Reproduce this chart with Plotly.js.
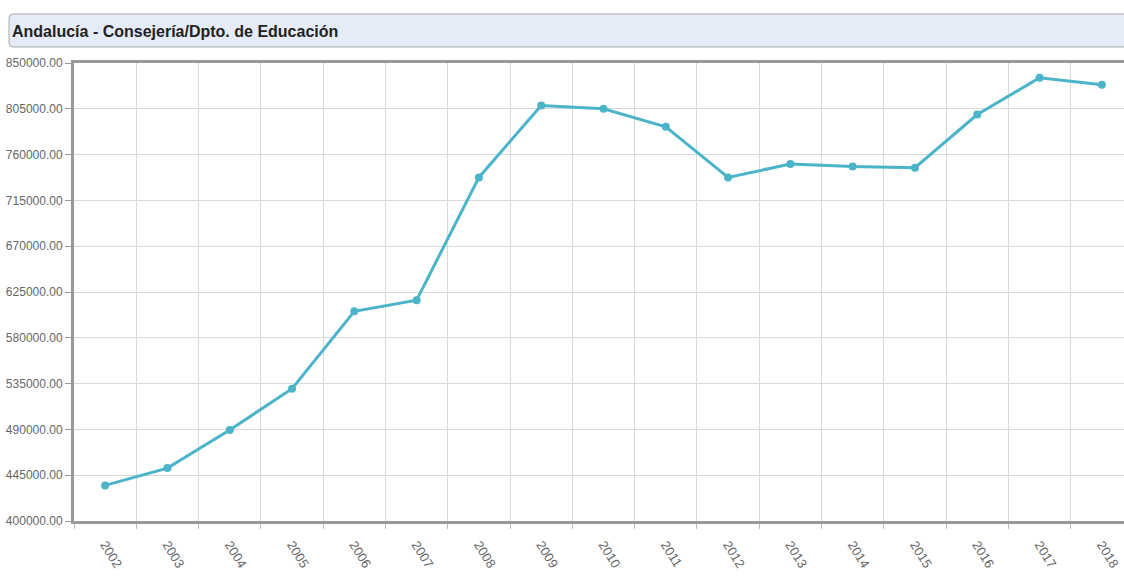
<!DOCTYPE html>
<html>
<head>
<meta charset="utf-8">
<script src="https://cdn.plot.ly/plotly-3.0.1.min.js"></script>
<style>
html,body{margin:0;padding:0;overflow:hidden;background:#fff;}
#chart{width:1150px;height:578px;}
</style>
</head>
<body>
<div id="chart"></div>
<script>
const years = ['2002','2003','2004','2005','2006','2007','2008','2009','2010','2011','2012','2013','2014','2015','2016','2017','2018'];
const values = [435000, 452000, 489400, 530000, 606000, 617000, 737600, 808300, 805000, 787300, 737500, 750800, 748200, 747200, 799400, 835500, 828600];
const yTicks = [400000, 445000, 490000, 535000, 580000, 625000, 670000, 715000, 760000, 805000, 850000];
const titleText = 'Andalucía - Consejería/Dpto. de Educación';

const W = 1150, H = 578;
const mL = 74, mR = 17, mT = 63, mB = 57;
const pw = W - mL - mR, ph = H - mT - mB;
const px2x = p => (p - mL) / pw;
const py2y = p => (H - mB - p) / ph;

const font = 'Liberation Sans, Arial, sans-serif';

// rounded title bar path (paper coords)
const bx0 = 9, bx1 = W + 20, by0 = 14, by1 = 47, r = 4;
const P = (x, y) => px2x(x) + ',' + py2y(y);
const barPath = 'M ' + P(bx0 + r, by0) + ' L ' + P(bx1, by0) + ' L ' + P(bx1, by1) +
  ' L ' + P(bx0 + r, by1) + ' Q ' + P(bx0, by1) + ' ' + P(bx0, by1 - r) +
  ' L ' + P(bx0, by0 + r) + ' Q ' + P(bx0, by0) + ' ' + P(bx0 + r, by0) + ' Z';

const trace = {
  x: years, y: values, type: 'scatter', mode: 'lines+markers',
  line: {color: 'rgb(75,180,200)', width: 3},
  marker: {color: 'rgb(75,180,200)', size: 8, symbol: 'circle'},
  hoverinfo: 'x+y', cliponaxis: false
};

const layout = {
  width: W, height: H,
  margin: {l: mL, r: mR, t: mT, b: mB, pad: 0},
  paper_bgcolor: '#fff', plot_bgcolor: '#fff',
  showlegend: false,
  font: {family: font, color: '#666', size: 12},
  title: {
    text: titleText,
    font: {family: font, size: 16, color: '#222', weight: 'bold'},
    xref: 'container', yref: 'container',
    x: 12 / W, xanchor: 'left', y: 1 - 31 / H, yanchor: 'middle'
  },
  shapes: [{
    type: 'path', xref: 'paper', yref: 'paper', layer: 'below',
    path: barPath,
    fillcolor: '#e6ebf8', line: {color: '#aaaaaa', width: 1}
  }],
  xaxis: {
    type: 'category', range: [-0.5, 16.5],
    tickson: 'boundaries', ticks: 'outside', ticklen: 5, tickcolor: '#bbb',
    showgrid: true, gridcolor: '#d9d9d9', gridwidth: 1,
    showline: true, linecolor: '#999', linewidth: 3, mirror: true,
    tickangle: 58, ticklabelstandoff: 8,
    tickfont: {family: font, size: 13, color: '#666'},
    fixedrange: true, zeroline: false
  },
  yaxis: {
    range: [400000, 850000], tickvals: yTicks, tickformat: '.2f',
    ticks: 'outside', ticklen: 6, tickcolor: '#999',
    showgrid: true, gridcolor: '#d9d9d9', gridwidth: 1,
    showline: true, linecolor: '#999', linewidth: 3, mirror: true,
    tickfont: {family: font, size: 12, color: '#666'},
    fixedrange: true, zeroline: false
  }
};

Plotly.newPlot('chart', [trace], layout, {displayModeBar: false, staticPlot: true});
</script>
</body>
</html>
